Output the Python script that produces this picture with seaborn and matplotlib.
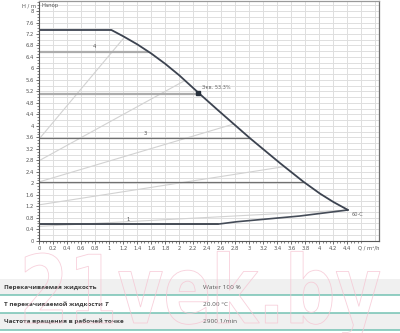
import numpy as np
import pandas as pd
import matplotlib
matplotlib.use("Agg")
import matplotlib.pyplot as plt
import seaborn as sns
from matplotlib.textpath import TextPath
from matplotlib.patches import PathPatch
from matplotlib.font_manager import FontProperties
from matplotlib.transforms import Affine2D

# ---------------- data ----------------
q_max = [0.0, 1.03, 1.20, 1.40, 1.60, 1.80, 2.00, 2.27, 2.56, 3.01, 3.44, 3.77, 4.01, 4.20, 4.41]
h_max = [7.34, 7.34, 7.12, 6.84, 6.52, 6.16, 5.76, 5.16, 4.53, 3.57, 2.70, 2.06, 1.64, 1.35, 1.07]

q_min = [0.0, 2.56, 2.82, 3.72, 4.41]
h_min = [0.58, 0.58, 0.66, 0.86, 1.07]

cp_h = [6.59, 5.11, 3.57, 2.06, 0.58]          # constant pressure levels
cp_end_q = [1.55, 2.27, 3.01, 3.77, 2.56]
cp_labels = ["4", "", "3", "", "1"]
cp_label_q = [0.79, 0, 1.51, 0, 1.27]

pp_start_h = [3.55, 2.79, 2.05, 1.25, 0.50]    # proportional pressure lines
pp_end_q = [1.22, 2.08, 2.77, 3.50, 4.41]
pp_end_h = [7.10, 5.58, 4.06, 2.58, 1.07]

duty_q, duty_h = 2.27, 5.13
duty_label = "Экв. 53.3%"
end_label = "60-C"

x_ticks = [round(0.2 * i, 1) for i in range(23)]
y_ticks = [round(0.4 * i, 1) for i in range(21)]

table_names = ["Перекачиваемая жидкость", "Т перекачиваемой жидкости", "Частота вращения в рабочей точке"]
table_values = ["Water 100 %", "20.00 °C", "2900 1/min"]

# ---------------- figure ----------------
sns.set_style("white")
plt.rcParams["font.family"] = ["DejaVu Sans"]
W, H = 400, 333
fig = plt.figure(figsize=(W / 100, H / 100), dpi=100)
ax = fig.add_axes([39.3 / W, 1 - 240.7 / H, (379 - 39.3) / W, (240.7 - 1) / H])
ax.set_xlim(0, 4.853)
ax.set_ylim(0, 8.35)

# grid
for v in np.arange(0, 4.9, 0.2):
    ax.axvline(v, color="#dedede", lw=0.7, zorder=0)
for v in np.arange(0, 8.4, 0.2):
    ax.axhline(v, color="#dedede", lw=0.7, zorder=0)

# proportional pressure lines
for h0, qe, he in zip(pp_start_h, pp_end_q, pp_end_h):
    sns.lineplot(x=[0, qe], y=[h0, he], ax=ax, color="#d2d2d2", lw=0.8, sort=False, estimator=None)

# constant pressure lines
for i, (h, qe) in enumerate(zip(cp_h, cp_end_q)):
    if i < 2:
        col, lw = "#acacac", 1.6
    elif i == 4:
        col, lw = "#5c5c5c", 1.4
    else:
        col, lw = "#707070", 0.9
    sns.lineplot(x=[0, qe], y=[h, h], ax=ax, color=col, lw=lw, sort=False, estimator=None)
    if cp_labels[i]:
        ax.text(cp_label_q[i], h + 0.08, cp_labels[i], fontsize=3.8, color="#555", ha="center", va="bottom")

# min / max curves
sns.lineplot(x=q_min, y=h_min, ax=ax, color="#454c58", lw=1.2, sort=False, estimator=None)
sns.lineplot(x=q_max, y=h_max, ax=ax, color="#3c4350", lw=1.3, sort=False, estimator=None)

# duty point
ax.plot([duty_q], [duty_h], marker="s", ms=3.2, color="#27303c", zorder=5)
ax.text(duty_q + 0.06, duty_h + 0.12, duty_label, fontsize=3.6, color="#666", ha="left", va="bottom")
ax.text(q_max[-1] + 0.05, h_max[-1] - 0.08, end_label, fontsize=3.6, color="#666", ha="left", va="top")

# axes styling
ax.set_xticks(x_ticks)
ax.set_xticklabels([f"{v:g}" for v in x_ticks])
ax.set_yticks(y_ticks)
ax.set_yticklabels([f"{v:g}" for v in y_ticks])
ax.set_xticks(np.arange(0, 4.61, 0.05), minor=True)
ax.set_yticks(np.arange(0, 8.31, 0.1), minor=True)
ax.tick_params(axis="both", which="major", labelsize=3.8, labelcolor="#555", length=2.2, width=0.6,
               color="#555", pad=1.5, direction="out")
ax.tick_params(axis="both", which="minor", length=1.2, width=0.5, color="#555", direction="out")
ax.tick_params(axis="x", which="both", bottom=True)
ax.tick_params(axis="y", which="both", left=True)
ax.set_xlabel("")
ax.set_ylabel("")
for s in ["left", "bottom"]:
    ax.spines[s].set_color("#555")
    ax.spines[s].set_linewidth(0.8)
ax.spines["top"].set_color("#9a9a9a")
ax.spines["top"].set_linewidth(0.9)
ax.spines["right"].set_color("#707070")
ax.spines["right"].set_linewidth(0.9)

fig.text(36 / W, 1 - 5.5 / H, "H / m", fontsize=3.8, color="#555", ha="right", va="center")
fig.text(42 / W, 1 - 5.8 / H, "Напор", fontsize=3.8, color="#555", ha="left", va="center")
fig.text(369 / W, 1 - 247.5 / H, "Q / m³/h", fontsize=3.8, color="#555", ha="center", va="center")

# ---------------- table ----------------
teal = "#74c2b3"
row_tops = [279, 294.7, 312.7]
row_bots = [294.7, 312.7, 330]
row_bg = ["#f0f0f0", "#ffffff", "#f0f0f0"]
for top, bot, bg in zip(row_tops, row_bots, row_bg):
    fig.patches.append(plt.Rectangle((0, 1 - bot / H), 1, (bot - top) / H, transform=fig.transFigure,
                                     facecolor=bg, edgecolor="none", zorder=0))
    fig.add_artist(plt.Line2D([0, 1], [1 - bot / H, 1 - bot / H], transform=fig.transFigure,
                              color=teal, lw=1.1))
renderer = fig.canvas.get_renderer()
for i, (name, val) in enumerate(zip(table_names, table_values)):
    yc = 1 - ((row_tops[i] + row_bots[i]) / 2 + 0.3) / H
    t = fig.text(3.5 / W, yc, name, fontsize=4.6, family=["Open Sans", "DejaVu Sans"], weight="bold",
                 color="#3c3c3c", ha="left", va="center")
    if i == 1:
        bb = t.get_window_extent(renderer)
        fig.text(bb.x1 / W + 2.5 / W, yc, "T", fontsize=4.6, family=["Open Sans", "DejaVu Sans"],
                 weight="bold", style="italic", color="#3c3c3c", ha="left", va="center")
    fig.text(203 / W, yc, val, fontsize=4.6, family=["Open Sans", "DejaVu Sans"], color="#555",
             ha="left", va="center")

# ---------------- watermark ----------------
fp = FontProperties(family="DejaVu Sans", weight="bold")
tp = TextPath((0, 0), "21vek.by", size=1, prop=fp)
ext = tp.get_extents()
cap = TextPath((0, 0), "2", size=1, prop=fp).get_extents().y1
sx = (380 - 25) / (ext.x1 - ext.x0)
sy = (323 - 253) / cap
tr = Affine2D().translate(-ext.x0, 0).scale(sx / W, sy / H).translate(25 / W, (H - 323) / H) + fig.transFigure
fig.add_artist(PathPatch(tp, transform=tr, facecolor="none", edgecolor="#f6c4d2", lw=0.6, alpha=0.8, zorder=10))

fig.savefig("out.png", dpi=100)
